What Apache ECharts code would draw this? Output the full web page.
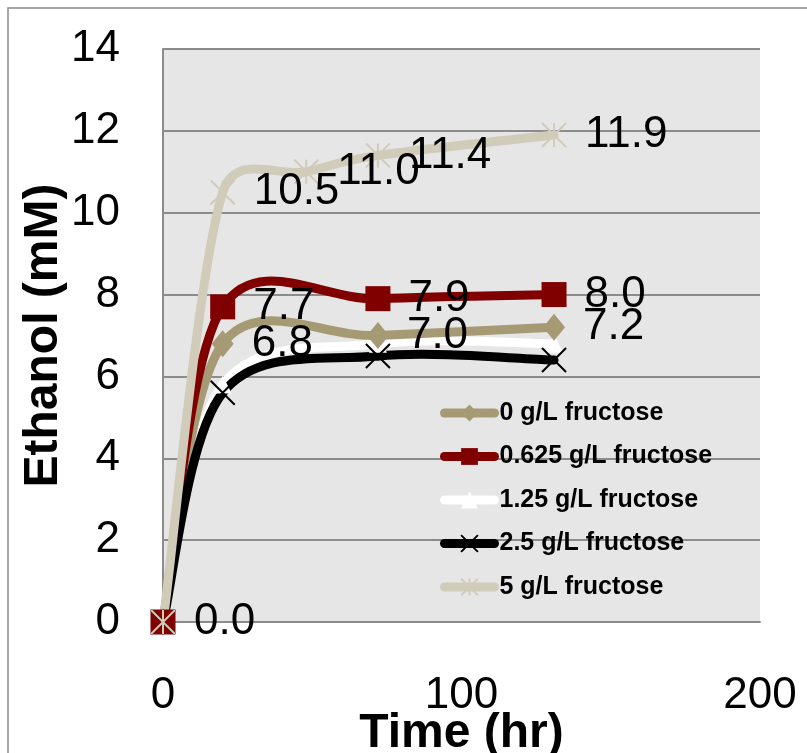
<!DOCTYPE html>
<html>
<head>
<meta charset="utf-8">
<style>
  html, body { margin: 0; padding: 0; background: #ffffff; }
  #chart { width: 807px; height: 753px; }
</style>
<script src="https://cdn.jsdelivr.net/npm/echarts@6/dist/echarts.min.js"></script>
</head>
<body>
<div id="chart"></div>
<script>
// Sampling times (hr)
const timesMain = [0, 20, 72, 131];
const timesHigh = [0, 20, 48, 72, 131];

// Ethanol concentration (mM) per fructose level
const seriesNames = ['0 g/L fructose', '0.625 g/L fructose', '1.25 g/L fructose', '2.5 g/L fructose', '5 g/L fructose'];
const ethanol0 = [0, 6.8, 7.0, 7.2];
const ethanol0625 = [0, 7.7, 7.9, 8.0];
const ethanol125 = [0, 5.8, 6.8, 6.8];
const ethanol25 = [0, 5.6, 6.5, 6.4];
const ethanol5 = [0, 10.5, 11.0, 11.4, 11.9];

// Axis ticks
const xTicks = { min: 0, max: 200, interval: 100 };
const yTicks = { min: 0, max: 14, interval: 2 };

const FONT = "'Liberation Sans', Arial, sans-serif";
const GRID_GRAY = '#8c8c8c';
const LINE_W = 9;
const STAR = 'path://M0,0L20,20M20,0L0,20M10,0L10,20';
const CROSS = 'path://M0,0L20,20M20,0L0,20';

const pairs = (ts, vs) => ts.map((t, i) => [t, vs[i]]);

// Spreadsheet-style smoothed curve: cubic Bezier segments whose control arms
// follow the neighbouring points (1/6 tension), capped at half the segment length.
function curveSeries(ts, vs, color) {
  return {
    type: 'custom',
    data: pairs(ts, vs),
    encode: { x: 0, y: 1 },
    silent: true,
    renderItem: function (params, api) {
      const i = params.dataIndex;
      if (i === 0) return null;
      const n = ts.length;
      const P = k => api.coord([ts[Math.max(0, Math.min(n - 1, k))], vs[Math.max(0, Math.min(n - 1, k))]]);
      const p0 = P(i - 2), p1 = P(i - 1), p2 = P(i), p3 = P(i + 1);
      const dist = (a, b) => Math.hypot(a[0] - b[0], a[1] - b[1]);
      const d12 = dist(p1, p2), d02 = dist(p0, p2), d13 = dist(p1, p3);
      const f0 = (d02 / 6 < d12 / 2 || d02 === 0) ? 1 / 6 : d12 / d02 / 2;
      const f3 = (d13 / 6 < d12 / 2 || d13 === 0) ? 1 / 6 : d12 / d13 / 2;
      return {
        type: 'bezierCurve',
        shape: {
          x1: p1[0], y1: p1[1], x2: p2[0], y2: p2[1],
          cpx1: p1[0] + (p2[0] - p0[0]) * f0, cpy1: p1[1] + (p2[1] - p0[1]) * f0,
          cpx2: p2[0] - (p3[0] - p1[0]) * f3, cpy2: p2[1] - (p3[1] - p1[1]) * f3
        },
        style: { stroke: color, lineWidth: LINE_W, fill: null, lineCap: 'round', lineJoin: 'round' }
      };
    }
  };
}

const valueLabel = {
  show: true,
  position: 'right',
  distance: 18,
  fontFamily: FONT,
  fontSize: 44,
  color: '#000000',
  formatter: p => p.value[1].toFixed(1)
};

// Markers (and value labels) for one series; the curve itself is drawn by curveSeries.
function markSeries(name, ts, vs, color, symbol, symbolSize, opts) {
  opts = opts || {};
  const data = pairs(ts, vs).map((v, i) =>
    (opts.hideFirstLabel && i === 0) ? { value: v, label: { show: false } } : { value: v });
  return {
    name: name,
    type: 'line',
    data: data,
    symbol: symbol,
    symbolSize: symbolSize,
    showAllSymbol: true,
    lineStyle: { color: color, width: 0, opacity: 0 },
    itemStyle: { color: color, borderColor: color, borderWidth: opts.stroke || 0 },
    label: opts.label ? valueLabel : { show: false },
    emphasis: { disabled: true }
  };
}

const chart = echarts.init(document.getElementById('chart'), null, { renderer: 'canvas' });

chart.setOption({
  animation: false,
  backgroundColor: '#ffffff',
  graphic: [{
    type: 'rect',
    z: -10,
    shape: { x: 8, y: 8, width: 900, height: 900 },
    style: { fill: 'none', stroke: '#8a8a8a', lineWidth: 1.5 }
  }],
  grid: {
    left: 163, top: 49, right: 47, bottom: 131,
    containLabel: false,
    outerBoundsMode: 'none',
    show: true, backgroundColor: '#e6e6e6', borderWidth: 0
  },
  legend: {
    orient: 'vertical',
    left: 440,
    top: 400,
    padding: 0,
    itemWidth: 50,
    itemHeight: 21,
    itemGap: 17.5,
    lineStyle: { width: LINE_W, cap: 'round', opacity: 1 },
    textStyle: { fontFamily: FONT, fontSize: 25, fontWeight: 'bold', color: '#000000', lineHeight: 26 },
    data: seriesNames
  },
  xAxis: {
    type: 'value',
    min: xTicks.min, max: xTicks.max, interval: xTicks.interval,
    name: 'Time (hr)',
    nameLocation: 'middle',
    nameGap: 88,
    nameMoveOverlap: false,
    nameTextStyle: { fontFamily: FONT, fontSize: 48, fontWeight: 'bold', color: '#000000' },
    axisLine: { show: true, onZero: false, lineStyle: { color: GRID_GRAY, width: 2 } },
    axisTick: { show: false },
    splitLine: { show: false },
    axisLabel: { fontFamily: FONT, fontSize: 44, color: '#000000', margin: 52 }
  },
  yAxis: {
    type: 'value',
    min: yTicks.min, max: yTicks.max, interval: yTicks.interval,
    name: 'Ethanol (mM)',
    nameLocation: 'middle',
    nameGap: 95,
    nameMoveOverlap: false,
    nameTextStyle: { fontFamily: FONT, fontSize: 48, fontWeight: 'bold', color: '#000000' },
    axisLine: { show: true, lineStyle: { color: GRID_GRAY, width: 2 } },
    axisTick: { show: false },
    splitLine: { show: true, lineStyle: { color: GRID_GRAY, width: 2 } },
    axisLabel: { fontFamily: FONT, fontSize: 44, color: '#000000', margin: 43, padding: [6, 0, 0, 0] }
  },
  series: [
    curveSeries(timesMain, ethanol125, '#ffffff'),
    markSeries(seriesNames[2], timesMain, ethanol125, '#ffffff', 'triangle', 18),
    curveSeries(timesMain, ethanol0, '#a69a75'),
    markSeries(seriesNames[0], timesMain, ethanol0, '#a69a75', 'diamond', [22, 27], { label: true, hideFirstLabel: true }),
    curveSeries(timesMain, ethanol0625, '#800000'),
    markSeries(seriesNames[1], timesMain, ethanol0625, '#800000', 'rect', 25, { label: true, hideFirstLabel: true }),
    curveSeries(timesMain, ethanol25, '#000000'),
    markSeries(seriesNames[3], timesMain, ethanol25, '#000000', CROSS, 24, { stroke: 2 }),
    curveSeries(timesHigh, ethanol5, '#d1cbba'),
    markSeries(seriesNames[4], timesHigh, ethanol5, '#d1cbba', STAR, 24, { stroke: 2, label: true })
  ]
});
</script>
</body>
</html>
